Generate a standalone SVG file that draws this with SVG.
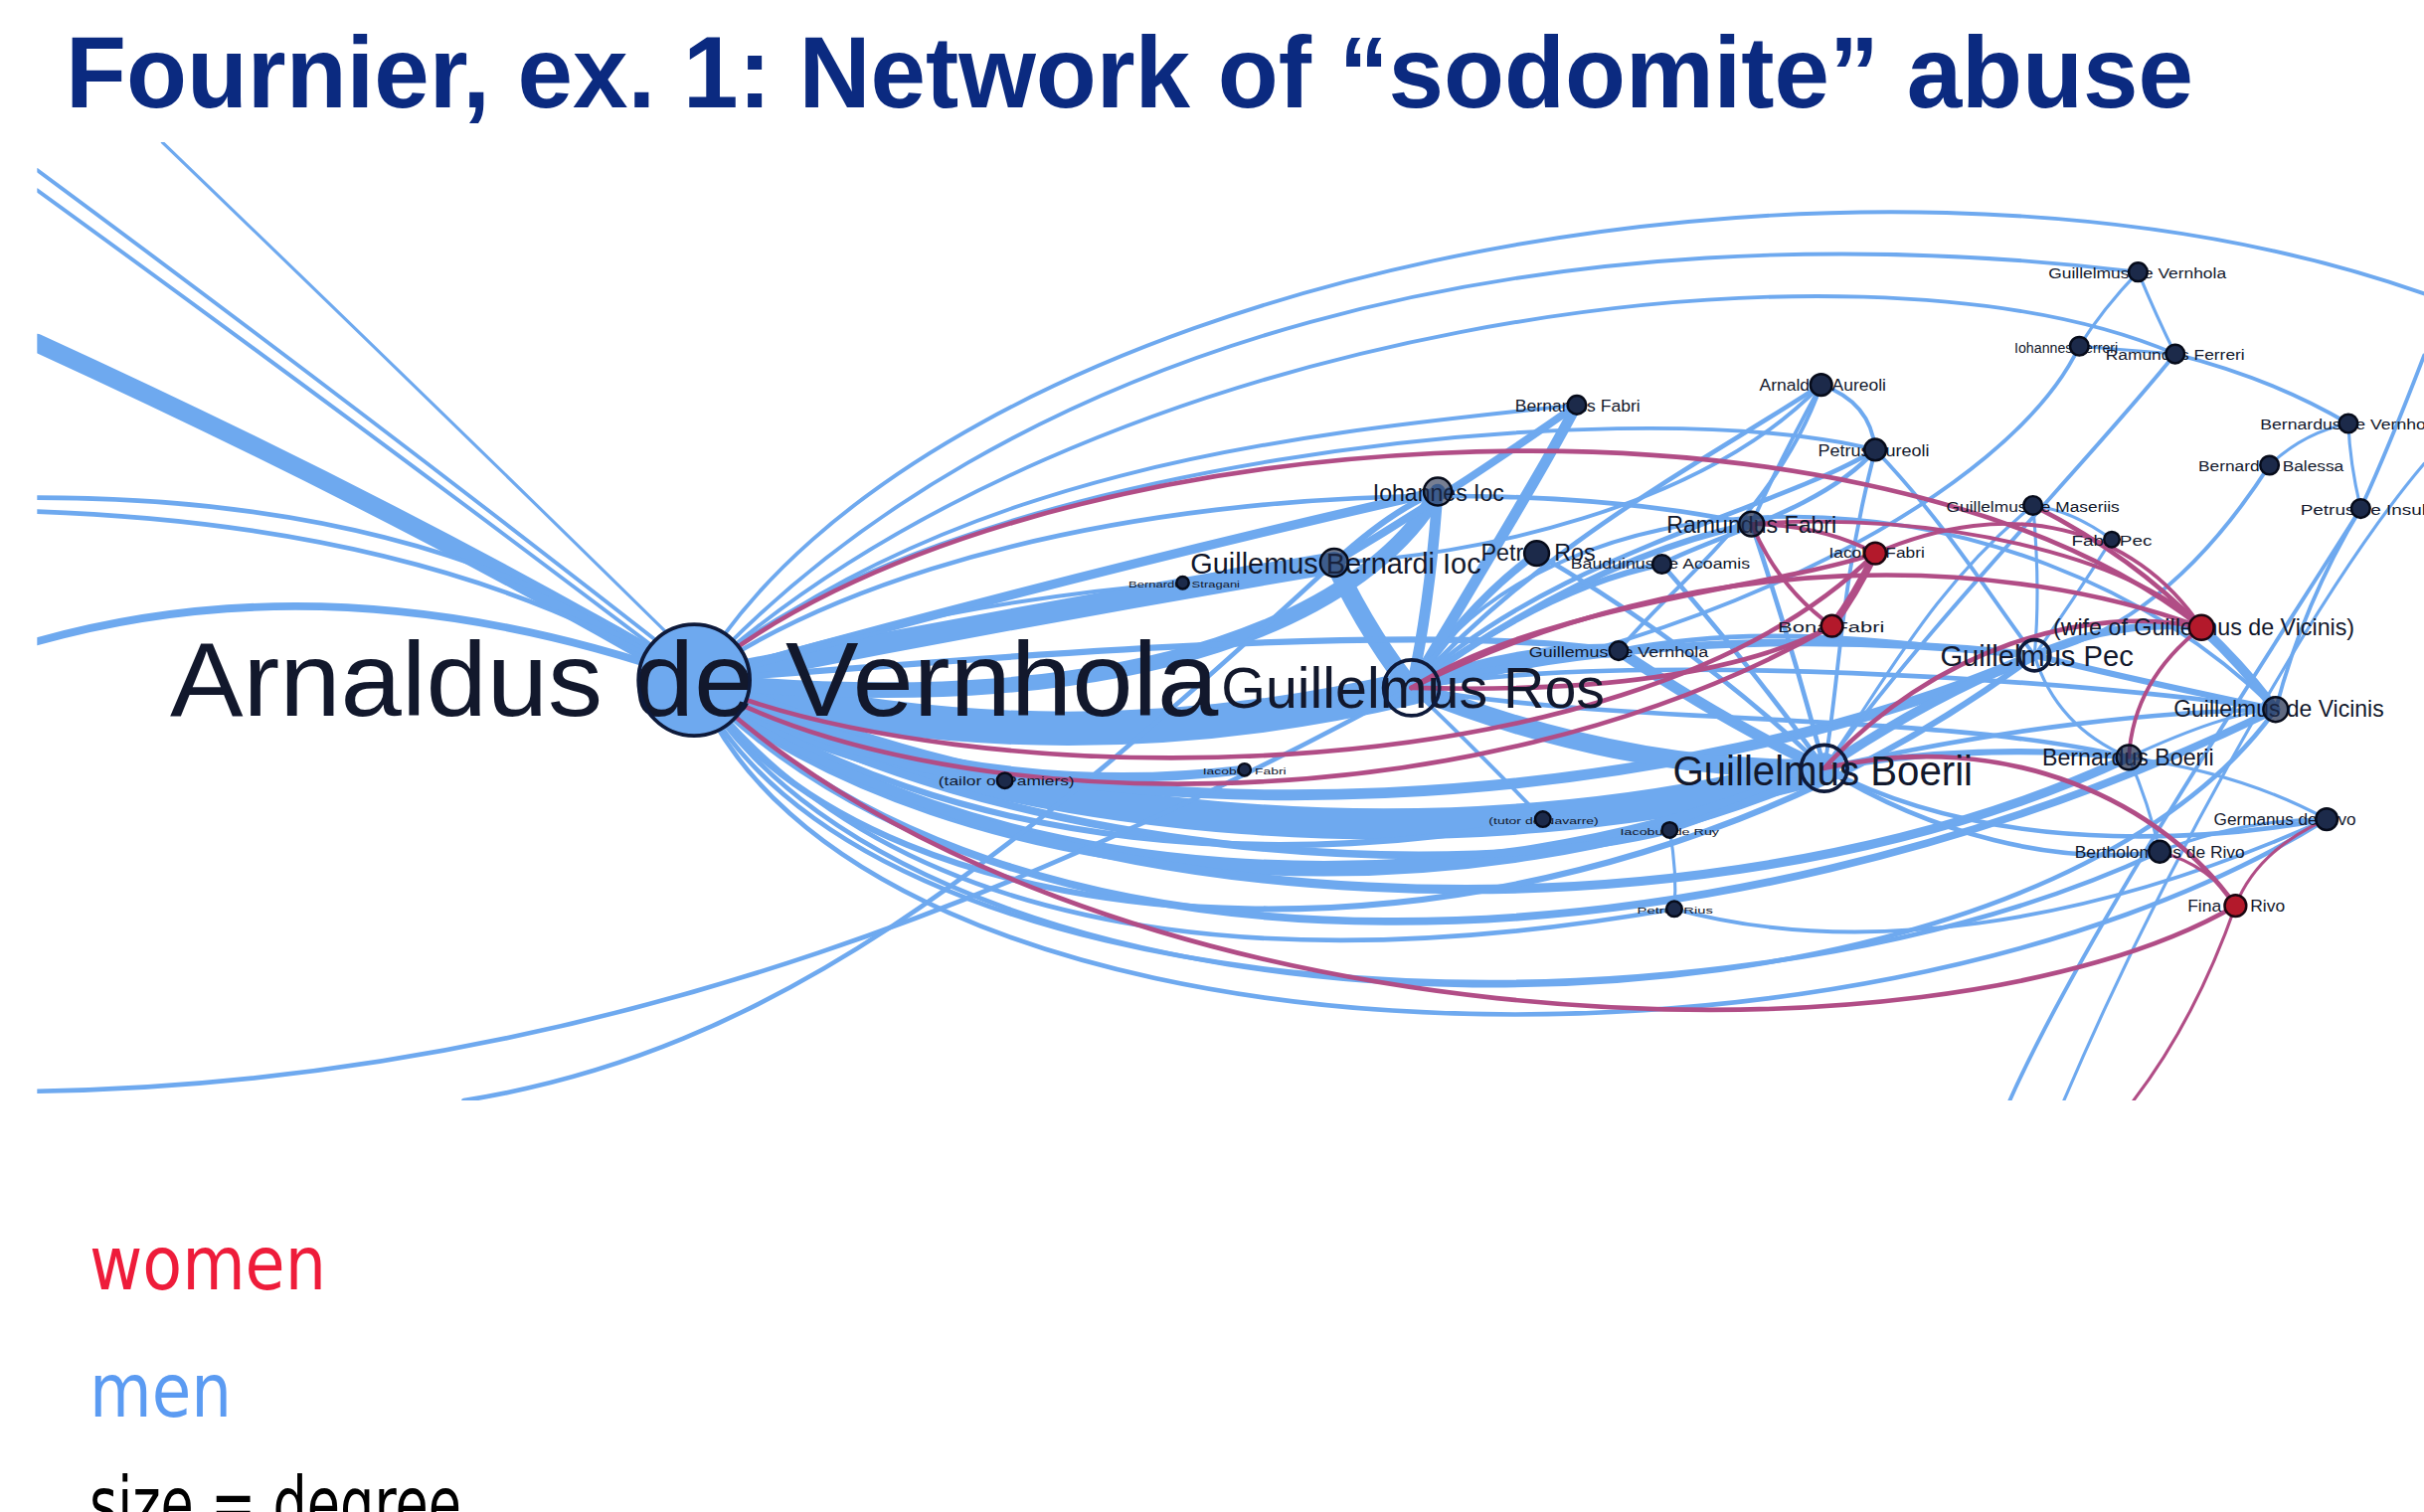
<svg xmlns="http://www.w3.org/2000/svg" width="2438" height="1521" viewBox="0 0 2438 1521">
<style>
.e{fill:none;stroke:#6ea9ef;stroke-linecap:round}
.p{fill:none;stroke:#b14d86;stroke-linecap:round}
.lb{font-family:"Liberation Sans",Arial,sans-serif;fill:#12182c}
.sn{fill:#1c2a4a;stroke:#060b1a;stroke-width:1.6}
.wn{fill:#b3192b;stroke:#1a0610;stroke-width:1.6}
.bn{fill:none;stroke:#0e1a3a;stroke-width:2.4}
.lg{font-family:"DejaVu Sans","Liberation Sans",sans-serif}
</style>
<defs>
<clipPath id="gc" clipPathUnits="userSpaceOnUse"><rect x="24" y="92" width="1544" height="620"/></clipPath>
</defs>
<rect width="2438" height="1521" fill="#ffffff"/>
<text x="66" y="108" font-family="Liberation Sans, Arial, sans-serif" font-weight="bold" font-size="102" fill="#0b2a80" textLength="2140" lengthAdjust="spacingAndGlyphs">Fournier, ex. 1: Network of “sodomite” abuse</text>

<g transform="scale(1.5549)">
<g id="connectors" clip-path="url(#gc)">
<g id="blue-edges">
<path class="e" stroke-width="2" d="M105,92 Q300,280 440,418"/>
<path class="e" stroke-width="2.5" d="M24,110 Q240,270 438,425"/>
<path class="e" stroke-width="2.5" d="M24,123 Q240,280 438,430"/>
<path class="e" stroke-width="12" d="M24,222 Q260,330 445,438"/>
<path class="e" stroke-width="3" d="M24,322 Q280,322 440,432"/>
<path class="e" stroke-width="3" d="M24,331 Q280,340 440,436"/>
<path class="e" stroke-width="5" d="M24,415 Q220,360 445,438"/>
<path class="e" stroke-width="2.5" d="M449,440 C600,180 1200,60 1568,190"/>
<path class="e" stroke-width="2.5" d="M449,440 C650,220 1000,130 1383,176"/>
<path class="e" stroke-width="2.5" d="M449,440 C700,210 1200,140 1407,229"/>
<path class="e" stroke-width="2.5" d="M1407,229 Q1470,245 1519,274"/>
<path class="e" stroke-width="2.5" d="M449,440 C620,300 850,280 1020,262"/>
<path class="e" stroke-width="3" d="M449,440 C620,320 950,300 1133,339"/>
<path class="e" stroke-width="2.5" d="M449,440 C600,300 1050,250 1213,291"/>
<path class="e" stroke-width="22" d="M449,440 Q680,500 913,445"/>
<path class="e" stroke-width="20" d="M449,440 C650,540 950,560 1180,497"/>
<path class="e" stroke-width="14" d="M449,440 Q650,400 863,364"/>
<path class="e" stroke-width="6" d="M449,440 Q700,370 930,318"/>
<path class="e" stroke-width="10" d="M930,318 C890,390 750,470 449,440"/>
<path class="e" stroke-width="12" d="M863,364 C880,400 900,430 913,445"/>
<path class="e" stroke-width="7" d="M930,318 Q925,390 913,445"/>
<path class="e" stroke-width="4" d="M863,364 Q900,330 930,318"/>
<path class="e" stroke-width="10" d="M449,440 C620,580 950,600 1180,497"/>
<path class="e" stroke-width="7" d="M449,440 C700,560 1100,520 1316,424"/>
<path class="e" stroke-width="6" d="M449,440 C650,600 1100,620 1377,490"/>
<path class="e" stroke-width="5" d="M449,440 C650,650 1100,640 1472,459"/>
<path class="e" stroke-width="4" d="M449,440 C560,620 1000,660 1316,424"/>
<path class="e" stroke-width="3" d="M449,440 C550,700 1200,720 1505,530"/>
<path class="e" stroke-width="3" d="M449,440 C550,660 1100,690 1397,551"/>
<path class="e" stroke-width="3" d="M449,440 C600,700 1300,700 1472,459"/>
<path class="e" stroke-width="3" d="M449,440 C600,640 900,620 1083,588"/>
<path class="e" stroke-width="4" d="M449,440 C620,560 850,560 998,530"/>
<path class="e" stroke-width="5" d="M449,440 C650,560 950,570 1080,537"/>
<path class="e" stroke-width="6" d="M449,440 Q620,520 805,498"/>
<path class="e" stroke-width="4" d="M449,440 Q560,500 650,505"/>
<path class="e" stroke-width="2.5" d="M449,440 Q600,390 765,377"/>
<path class="e" stroke-width="2" d="M765,377 Q820,360 863,364"/>
<path class="e" stroke-width="4" d="M449,440 C600,430 900,400 1047,421"/>
<path class="e" stroke-width="3" d="M24,706 C400,700 700,560 913,445"/>
<path class="e" stroke-width="3" d="M300,712 C500,680 650,560 863,364"/>
<path class="e" stroke-width="5" d="M913,445 Q950,390 994,358"/>
<path class="e" stroke-width="4" d="M913,445 Q1000,380 1075,365"/>
<path class="e" stroke-width="4" d="M913,445 Q1030,360 1133,339"/>
<path class="e" stroke-width="3" d="M913,445 C1000,350 1100,300 1178,249"/>
<path class="e" stroke-width="3" d="M913,445 C1000,360 1150,330 1213,291"/>
<path class="e" stroke-width="9" d="M913,445 Q980,420 1047,421"/>
<path class="e" stroke-width="5" d="M913,445 Q1100,400 1316,424"/>
<path class="e" stroke-width="12" d="M913,445 Q1050,500 1180,497"/>
<path class="e" stroke-width="3" d="M913,445 C1050,470 1250,460 1377,490"/>
<path class="e" stroke-width="3" d="M913,445 C1050,420 1350,440 1472,459"/>
<path class="e" stroke-width="2.5" d="M998,530 Q960,490 913,445"/>
<path class="e" stroke-width="7" d="M913,445 C1000,300 1005,290 1020,262"/>
<path class="e" stroke-width="5" d="M863,364 C920,330 980,290 1020,262"/>
<path class="e" stroke-width="2.5" d="M913,445 C1000,300 1300,290 1472,459"/>
<path class="e" stroke-width="2.5" d="M1178,249 Q1150,300 1133,339"/>
<path class="e" stroke-width="2.5" d="M1178,249 Q1210,260 1213,291"/>
<path class="e" stroke-width="2.5" d="M1178,249 C1150,330 1080,380 1047,421"/>
<path class="e" stroke-width="2.5" d="M1178,249 C1100,330 950,360 863,364"/>
<path class="e" stroke-width="3" d="M1213,291 C1180,330 1100,350 1075,365"/>
<path class="e" stroke-width="2.5" d="M1213,291 C1190,380 1190,440 1180,497"/>
<path class="e" stroke-width="2.5" d="M1213,291 C1260,340 1290,390 1316,424"/>
<path class="e" stroke-width="3" d="M1133,339 Q1160,420 1180,497"/>
<path class="e" stroke-width="7" d="M1047,421 Q1120,470 1180,497"/>
<path class="e" stroke-width="3" d="M1075,365 Q1140,440 1180,497"/>
<path class="e" stroke-width="3" d="M994,358 Q1100,420 1180,497"/>
<path class="e" stroke-width="3" d="M1047,421 C1150,400 1250,420 1316,424"/>
<path class="e" stroke-width="5" d="M1316,424 Q1370,400 1424,406"/>
<path class="e" stroke-width="4" d="M1316,424 C1380,440 1430,450 1472,459"/>
<path class="e" stroke-width="2" d="M1316,424 Q1330,470 1377,490"/>
<path class="e" stroke-width="2" d="M1315,327 Q1320,380 1316,424"/>
<path class="e" stroke-width="2" d="M1366,349 Q1340,390 1316,424"/>
<path class="e" stroke-width="6" d="M1424,406 Q1450,430 1472,459"/>
<path class="e" stroke-width="6" d="M1180,497 Q1250,450 1316,424"/>
<path class="e" stroke-width="4" d="M1180,497 Q1280,480 1377,490"/>
<path class="e" stroke-width="3" d="M1180,497 C1300,470 1400,460 1472,459"/>
<path class="e" stroke-width="3" d="M1180,497 C1300,560 1450,540 1505,530"/>
<path class="e" stroke-width="3" d="M1180,497 C1250,540 1330,560 1397,551"/>
<path class="e" stroke-width="4" d="M1180,497 Q1130,520 1080,537"/>
<path class="e" stroke-width="2" d="M1080,537 Q1085,565 1083,588"/>
<path class="e" stroke-width="2" d="M1377,490 Q1450,500 1505,530"/>
<path class="e" stroke-width="2" d="M1377,490 Q1390,520 1397,551"/>
<path class="e" stroke-width="2" d="M1505,530 Q1450,530 1397,551"/>
<path class="e" stroke-width="2" d="M1377,490 C1420,470 1450,460 1472,459"/>
<path class="e" stroke-width="2.5" d="M1083,588 C1200,620 1350,600 1505,530"/>
<path class="e" stroke-width="2" d="M1383,176 Q1360,200 1345,224"/>
<path class="e" stroke-width="2" d="M1383,176 Q1395,205 1407,229"/>
<path class="e" stroke-width="2" d="M1345,224 L1407,229"/>
<path class="e" stroke-width="2.5" d="M1345,224 C1300,320 1100,420 913,445"/>
<path class="e" stroke-width="2.5" d="M1407,229 C1350,300 1250,400 1180,497"/>
<path class="e" stroke-width="2" d="M1519,274 Q1520,300 1527,329"/>
<path class="e" stroke-width="2" d="M1468,301 Q1490,280 1519,274"/>
<path class="e" stroke-width="2.5" d="M1468,301 C1430,360 1380,410 1316,424"/>
<path class="e" stroke-width="2.5" d="M1568,230 Q1545,290 1527,329"/>
<path class="e" stroke-width="2.5" d="M1527,329 Q1490,390 1472,459"/>
<path class="e" stroke-width="2.5" d="M1527,329 C1470,420 1350,600 1300,712"/>
<path class="e" stroke-width="2" d="M1568,300 C1500,380 1400,560 1335,712"/>
<path class="e" stroke-width="2" d="M1315,327 C1250,380 1220,440 1180,497"/>
<path class="e" stroke-width="2" d="M1315,327 Q1340,330 1366,349"/>
</g>
<g id="pink-edges">
<path class="p" stroke-width="3" d="M449,440 C650,270 1200,230 1424,406"/>
<path class="p" stroke-width="3" d="M449,440 C600,530 950,540 1185,405"/>
<path class="p" stroke-width="3" d="M449,440 C620,515 1050,520 1213,358"/>
<path class="p" stroke-width="3" d="M449,440 C700,680 1250,700 1446,586"/>
<path class="p" stroke-width="3" d="M913,445 C1100,350 1300,360 1424,406"/>
<path class="p" stroke-width="3" d="M913,445 C1000,390 1150,380 1213,358"/>
<path class="p" stroke-width="3" d="M913,445 Q1100,450 1185,405"/>
<path class="p" stroke-width="3" d="M1180,497 C1250,420 1350,390 1424,406"/>
<path class="p" stroke-width="3" d="M1180,497 C1300,470 1400,520 1446,586"/>
<path class="p" stroke-width="5" stroke="#d83a62" d="M1213,358 Q1200,385 1185,405"/>
<path class="p" stroke-width="2.5" d="M1133,339 C1250,330 1380,360 1424,406"/>
<path class="p" stroke-width="2.5" d="M1133,339 Q1180,340 1213,358"/>
<path class="p" stroke-width="2.5" d="M1133,339 Q1150,380 1185,405"/>
<path class="p" stroke-width="3" d="M1315,327 Q1380,360 1424,406"/>
<path class="p" stroke-width="2.5" d="M1424,406 Q1380,440 1377,490"/>
<path class="p" stroke-width="2" d="M1505,530 Q1460,550 1446,586"/>
<path class="p" stroke-width="2" d="M1397,551 Q1430,560 1446,586"/>
<path class="p" stroke-width="2" d="M1446,586 Q1420,660 1380,712"/>
<path class="p" stroke-width="2.5" d="M1213,358 C1300,320 1380,340 1424,406"/>
</g>
</g>

<g id="nodes">
<g id="n-arnaldus"><circle cx="449" cy="440" r="36" fill="#6ea9ef"/><text class="lb" x="110" y="463" font-size="68" textLength="678" lengthAdjust="spacingAndGlyphs">Arnaldus de Vernhola</text><circle class="bn" cx="449" cy="440" r="36" stroke-width="3"/></g>
<g id="n-ros"><text class="lb" x="790" y="458" font-size="37" textLength="248" lengthAdjust="spacingAndGlyphs">Guillelmus Ros</text><circle class="bn" cx="913" cy="445" r="18"/></g>
<g id="n-boerii"><text class="lb" x="1082" y="508" font-size="27" textLength="194" lengthAdjust="spacingAndGlyphs" fill="#1a2242">Guillelmus Boerii</text><circle class="bn" cx="1180" cy="497" r="15"/></g>
<g id="n-pec"><text class="lb" x="1255" y="431" font-size="19" textLength="125" lengthAdjust="spacingAndGlyphs" fill="#1a2242">Guillelmus Pec</text><circle class="bn" cx="1316" cy="424" r="10"/></g>
<g id="n-gbioc"><text class="lb" x="770" y="371" font-size="19" textLength="188" lengthAdjust="spacingAndGlyphs">Guillemus Bernardi Ioc</text><circle class="sn" cx="863" cy="364" r="9" fill-opacity="0.6" stroke-width="2.4"/></g>
<g id="n-iioc"><text class="lb" x="888" y="324" font-size="15" textLength="85" lengthAdjust="spacingAndGlyphs">Iohannes Ioc</text><circle class="sn" cx="930" cy="318" r="9" fill-opacity="0.6" stroke-width="2.4"/></g>
<g id="n-pros"><text class="lb" x="958" y="363" font-size="15" textLength="74" lengthAdjust="spacingAndGlyphs">Petrus Ros</text><circle class="sn" cx="994" cy="358" r="8"/></g>
<g id="n-rfabri"><text class="lb" x="1078" y="345" font-size="15" textLength="110" lengthAdjust="spacingAndGlyphs">Ramundus Fabri</text><circle class="sn" cx="1133" cy="339" r="8" fill-opacity="0.7" stroke-width="2.2"/></g>
<g id="n-bfabri"><text class="lb" x="980" y="266" font-size="11" textLength="81" lengthAdjust="spacingAndGlyphs">Bernardus Fabri</text><circle class="sn" cx="1020" cy="262" r="6"/></g>
<g id="n-aaureoli"><text class="lb" x="1138" y="253" font-size="11" textLength="82" lengthAdjust="spacingAndGlyphs">Arnaldus Aureoli</text><circle class="sn" cx="1178" cy="249" r="7"/></g>
<g id="n-paureoli"><text class="lb" x="1176" y="295" font-size="11" textLength="72" lengthAdjust="spacingAndGlyphs">Petrus Aureoli</text><circle class="sn" cx="1213" cy="291" r="7"/></g>
<g id="n-baud"><text class="lb" x="1016" y="368" font-size="10" textLength="116" lengthAdjust="spacingAndGlyphs">Bauduinus de Acoamis</text><circle class="sn" cx="1075" cy="365" r="6"/></g>
<g id="n-iacoba"><text class="lb" x="1183" y="361" font-size="10" textLength="62" lengthAdjust="spacingAndGlyphs">Iacoba Fabri</text><circle class="wn" cx="1213" cy="358" r="7"/></g>
<g id="n-bona"><text class="lb" x="1150" y="409" font-size="10" textLength="69" lengthAdjust="spacingAndGlyphs">Bona Fabri</text><circle class="wn" cx="1185" cy="405" r="7"/></g>
<g id="n-gvern2"><text class="lb" x="989" y="425" font-size="10" textLength="116" lengthAdjust="spacingAndGlyphs">Guillemus de Vernhola</text><circle class="sn" cx="1047" cy="421" r="6"/></g>
<g id="n-wife"><text class="lb" x="1328" y="411" font-size="15" textLength="195" lengthAdjust="spacingAndGlyphs">(wife of Guillelmus de Vicinis)</text><circle class="wn" cx="1424" cy="406" r="8"/></g>
<g id="n-gvicinis"><text class="lb" x="1406" y="464" font-size="15" textLength="136" lengthAdjust="spacingAndGlyphs">Guillelmus de Vicinis</text><circle class="sn" cx="1472" cy="459" r="8" fill-opacity="0.7" stroke-width="2.2"/></g>
<g id="n-bboerii"><text class="lb" x="1321" y="495" font-size="15" textLength="111" lengthAdjust="spacingAndGlyphs">Bernardus Boerii</text><circle class="sn" cx="1377" cy="490" r="8" fill-opacity="0.7" stroke-width="2.2"/></g>
<g id="n-germrivo"><text class="lb" x="1432" y="534" font-size="11" textLength="92" lengthAdjust="spacingAndGlyphs">Germanus de Rivo</text><circle class="sn" cx="1505" cy="530" r="7"/></g>
<g id="n-bertrivo"><text class="lb" x="1342" y="555" font-size="11" textLength="110" lengthAdjust="spacingAndGlyphs">Bertholomeus de Rivo</text><circle class="sn" cx="1397" cy="551" r="7"/></g>
<g id="n-fina"><text class="lb" x="1415" y="590" font-size="11" textLength="63" lengthAdjust="spacingAndGlyphs">Fina de Rivo</text><circle class="wn" cx="1446" cy="586" r="7"/></g>
<g id="n-gverntop"><text class="lb" x="1325" y="180" font-size="10" textLength="115" lengthAdjust="spacingAndGlyphs">Guillelmus de Vernhola</text><circle class="sn" cx="1383" cy="176" r="6"/></g>
<g id="n-iferreri"><text class="lb" x="1303" y="228" font-size="10" textLength="67" lengthAdjust="spacingAndGlyphs">Iohannes Ferreri</text><circle class="sn" cx="1345" cy="224" r="6"/></g>
<g id="n-rferreri"><text class="lb" x="1362" y="233" font-size="10" textLength="90" lengthAdjust="spacingAndGlyphs">Ramundus Ferreri</text><circle class="sn" cx="1407" cy="229" r="6"/></g>
<g id="n-bvern"><text class="lb" x="1462" y="278" font-size="10" textLength="116" lengthAdjust="spacingAndGlyphs">Bernardus de Vernhola</text><circle class="sn" cx="1519" cy="274" r="6"/></g>
<g id="n-bbalessa"><text class="lb" x="1422" y="305" font-size="10" textLength="94" lengthAdjust="spacingAndGlyphs">Bernardus Balessa</text><circle class="sn" cx="1468" cy="301" r="6"/></g>
<g id="n-pinsula"><text class="lb" x="1488" y="333" font-size="10" textLength="88" lengthAdjust="spacingAndGlyphs">Petrus de Insula</text><circle class="sn" cx="1527" cy="329" r="6"/></g>
<g id="n-maseriis"><text class="lb" x="1259" y="331" font-size="10" textLength="112" lengthAdjust="spacingAndGlyphs">Guillelmus de Maseriis</text><circle class="sn" cx="1315" cy="327" r="6"/></g>
<g id="n-fabpec"><text class="lb" x="1340" y="353" font-size="10" textLength="52" lengthAdjust="spacingAndGlyphs">Fabri Pec</text><circle class="sn" cx="1366" cy="349" r="5"/></g>
<g id="n-bstrag"><text class="lb" x="730" y="380" font-size="6" textLength="72" lengthAdjust="spacingAndGlyphs">Bernardus Stragani</text><circle class="sn" cx="765" cy="377" r="4"/></g>
<g id="n-tailor"><text class="lb" x="607" y="508" font-size="8" textLength="88" lengthAdjust="spacingAndGlyphs">(tailor of Pamiers)</text><circle class="sn" cx="650" cy="505" r="5"/></g>
<g id="n-iacfabri"><text class="lb" x="778" y="501" font-size="6" textLength="54" lengthAdjust="spacingAndGlyphs">Iacobus Fabri</text><circle class="sn" cx="805" cy="498" r="4"/></g>
<g id="n-tutor"><text class="lb" x="963" y="533" font-size="6" textLength="71" lengthAdjust="spacingAndGlyphs">(tutor de Navarre)</text><circle class="sn" cx="998" cy="530" r="5"/></g>
<g id="n-ideruy"><text class="lb" x="1048" y="540" font-size="6" textLength="64" lengthAdjust="spacingAndGlyphs">Iacobus de Ruy</text><circle class="sn" cx="1080" cy="537" r="5"/></g>
<g id="n-prius"><text class="lb" x="1059" y="591" font-size="6" textLength="49" lengthAdjust="spacingAndGlyphs">Petrus Rius</text><circle class="sn" cx="1083" cy="588" r="5"/></g>
</g>
</g>

<g id="legend">
<text class="lg" x="90" y="1297" font-size="75" fill="#ee1c3a" textLength="238" lengthAdjust="spacingAndGlyphs">women</text>
<text class="lg" x="90" y="1425" font-size="75" fill="#5b9bf2" textLength="143" lengthAdjust="spacingAndGlyphs">men</text>
<text class="lg" x="90" y="1539" font-size="75" fill="#000000" textLength="374" lengthAdjust="spacingAndGlyphs">size = degree</text>
</g>
</svg>
